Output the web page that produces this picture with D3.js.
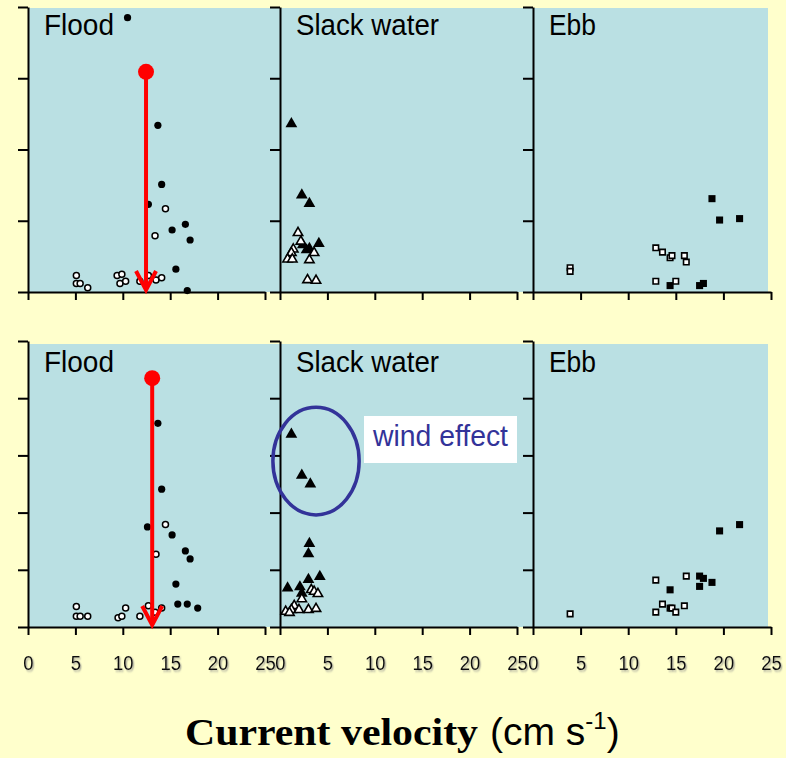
<!DOCTYPE html>
<html>
<head>
<meta charset="utf-8">
<script src="https://cdn.jsdelivr.net/npm/d3@7"></script>
<style>
  html, body { margin: 0; padding: 0; background: #FFFFCC; }
  svg { display: block; }
</style>
</head>
<body>
<script>
// Panel titles and x ticks
const panelNames = ["Flood", "Slack water", "Ebb"];
const xTicks = [0, 5, 10, 15, 20, 25];

// Top row ([velocity, y])
const floodTopFilled = [[10.5,3.85],[13.7,2.34],[14.1,1.51],[12.7,1.23],[15.2,0.87],[16.6,0.95],[17.1,0.73],[15.6,0.32],[16.8,0.02]];
const floodTopOpen = [[5.1,0.23],[5.1,0.12],[5.5,0.12],[6.3,0.06],[9.4,0.23],[9.9,0.25],[9.7,0.12],[10.3,0.15],[11.8,0.15],[12.7,0.23],[13.5,0.17],[14.1,0.20],[14.5,1.17],[13.4,0.79]];
const slackTopFilled = [[1.2,2.36],[2.3,1.36],[3.1,1.24],[2.4,0.66],[2.8,0.59],[3.1,0.61],[4.1,0.68]];
const slackTopOpen = [[1.9,0.83],[2.2,0.71],[1.4,0.60],[1.2,0.55],[0.8,0.46],[1.3,0.46],[3.1,0.45],[3.6,0.55],[2.9,0.17],[3.8,0.16]];
const ebbTopFilled = [[18.8,1.31],[19.6,1.01],[21.7,1.03],[14.4,0.09],[17.5,0.09],[17.9,0.12]];
const ebbTopOpen = [[3.9,0.34],[3.9,0.29],[12.9,0.62],[13.6,0.56],[14.4,0.48],[14.6,0.51],[15.9,0.51],[16.1,0.42],[12.9,0.15],[15.0,0.15]];

// Bottom row
const floodBotFilled = [[13.7,3.56],[14.1,2.41],[12.6,1.75],[15.2,1.61],[16.6,1.33],[17.1,1.19],[15.6,0.75],[15.8,0.40],[16.8,0.40],[17.9,0.33]];
const floodBotOpen = [[14.5,1.79],[13.5,1.27],[5.1,0.36],[5.1,0.19],[5.5,0.19],[6.3,0.19],[9.5,0.16],[9.9,0.19],[10.3,0.33],[11.8,0.19],[12.7,0.37],[13.4,0.26],[14.1,0.33]];
const slackBotFilled = [[1.2,3.37],[2.3,2.65],[3.2,2.50],[3.1,1.46],[3.0,1.28],[0.8,0.68],[2.1,0.70],[3.0,0.83],[4.2,0.88],[2.3,0.59]];
const slackBotOpen = [[3.3,0.65],[3.6,0.62],[4.0,0.58],[2.3,0.49],[1.5,0.37],[1.2,0.30],[0.6,0.27],[1.0,0.25],[2.0,0.30],[3.0,0.30],[3.8,0.32]];
const ebbBotFilled = [[19.6,1.68],[21.7,1.79],[17.5,0.89],[17.9,0.85],[18.8,0.78],[17.5,0.71],[14.4,0.65],[14.4,0.33]];
const ebbBotOpen = [[3.9,0.23],[12.9,0.82],[16.1,0.89],[13.6,0.40],[14.6,0.33],[15.0,0.26],[15.9,0.37],[12.9,0.26]];

// Red arrows in the flood panels: [x, start y, end y]
const arrowTop = [12.45, 3.09, 0];
const arrowBot = [13.1, 4.35, 0];

// "wind effect" ellipse in the bottom slack panel: [cx, cy, rx, ry] in data units
const windEllipse = [3.8, 2.9, 4.55, 0.94];

const width = 786, height = 758;
const colRange = [[28, 265], [280, 517], [533, 771]];
const labelWidths = [70, 143, 47];
const shapes = ["circle", "triangle", "square"];

const rows = [
  { top: 7, bottom: 292, bgTop: 8, ymax: 4, labelY: 35, tickLabels: false,
    sets: [[floodTopFilled, floodTopOpen], [slackTopFilled, slackTopOpen], [ebbTopFilled, ebbTopOpen]],
    arrow: arrowTop },
  { top: 341, bottom: 627, bgTop: 344, ymax: 5, labelY: 372, tickLabels: true,
    sets: [[floodBotFilled, floodBotOpen], [slackBotFilled, slackBotOpen], [ebbBotFilled, ebbBotOpen]],
    arrow: arrowBot }
];

const svg = d3.select("body").append("svg")
  .attr("width", width)
  .attr("height", height);

// soft shadow for tick labels
const filt = svg.append("defs").append("filter")
  .attr("id", "shadow").attr("x", "-20%").attr("y", "-20%")
  .attr("width", "160%").attr("height", "160%");
filt.append("feDropShadow")
  .attr("dx", 1.5).attr("dy", 1.5).attr("stdDeviation", 0.8)
  .attr("flood-color", "#888").attr("flood-opacity", 0.7);

svg.append("rect").attr("width", width).attr("height", height).attr("fill", "#FFFFCC");

function drawMarks(g, pts, shape, filled, x, y) {
  const sel = g.selectAll(null).data(pts).enter();
  if (shape === "circle") {
    sel.append("circle")
      .attr("cx", d => x(d[0]))
      .attr("cy", d => y(d[1]))
      .attr("r", filled ? 3.6 : 3)
      .attr("fill", filled ? "#000" : "#fff")
      .attr("stroke", "#000")
      .attr("stroke-width", filled ? 0 : 1.5);
  } else {
    const sym = d3.symbol()
      .type(shape === "triangle" ? d3.symbolTriangle : d3.symbolSquare)
      .size(shape === "triangle" ? (filled ? 60 : 38) : (filled ? 50 : 30));
    sel.append("path")
      .attr("d", sym)
      .attr("transform", d => `translate(${x(d[0])},${y(d[1])})`)
      .attr("fill", filled ? "#000" : "#fff")
      .attr("stroke", "#000")
      .attr("stroke-width", filled ? 0 : 1.6);
  }
}

rows.forEach(row => {
  // panel background
  svg.append("rect")
    .attr("x", 29).attr("y", row.bgTop)
    .attr("width", 768 - 29).attr("height", row.bottom - row.bgTop)
    .attr("fill", "#BAE0E3");

  const y = d3.scaleLinear().domain([0, row.ymax]).range([row.bottom, row.top]);

  colRange.forEach((range, c) => {
    const x = d3.scaleLinear().domain([0, 25]).range(range);
    const g = svg.append("g");

    drawMarks(g, row.sets[c][0], shapes[c], true, x, y);
    drawMarks(g, row.sets[c][1], shapes[c], false, x, y);

    // axes
    const yAxis = g.append("g")
      .attr("transform", `translate(${range[0]},0)`)
      .call(d3.axisLeft(y).tickValues(d3.range(0, row.ymax + 1)).tickSize(10).tickSizeOuter(0).tickFormat(""));
    const xAxis = g.append("g")
      .attr("transform", `translate(0,${row.bottom})`)
      .call(d3.axisBottom(x).tickValues(xTicks).tickSize(8).tickSizeOuter(0).tickPadding(20)
        .tickFormat(row.tickLabels ? d3.format("d") : ""));
    [yAxis, xAxis].forEach(a => {
      a.select(".domain").attr("stroke", "#000").attr("stroke-width", 2);
      a.selectAll(".tick line").attr("stroke", "#000").attr("stroke-width", 2);
    });
    xAxis.selectAll(".tick text")
      .attr("fill", "#111")
      .attr("filter", "url(#shadow)")
      .attr("transform", "scale(0.88,1)")
      .style("font-family", "'Liberation Sans',Arial,sans-serif")
      .style("font-size", "21px");

    // red arrow in the flood panel
    if (c === 0) {
      const [ax, y0, y1] = row.arrow;
      const px = x(ax), top = y(y0), bot = y(y1);
      g.append("line")
        .attr("x1", px).attr("x2", px)
        .attr("y1", top).attr("y2", bot - 2)
        .attr("stroke", "#FF0000").attr("stroke-width", 4);
      g.append("path")
        .attr("d", `M${px - 10},${bot - 21}L${px},${bot - 2}L${px + 10},${bot - 21}`)
        .attr("fill", "none").attr("stroke", "#FF0000").attr("stroke-width", 4);
      g.append("circle")
        .attr("cx", px).attr("cy", top).attr("r", 8)
        .attr("fill", "#FF0000");
    }

    // panel title
    g.append("text")
      .attr("x", range[0] + 16)
      .attr("y", row.labelY)
      .attr("textLength", labelWidths[c])
      .attr("lengthAdjust", "spacingAndGlyphs")
      .style("font-family", "'Liberation Sans',Arial,sans-serif")
      .style("font-size", "30px")
      .attr("fill", "#000")
      .text(panelNames[c]);

    // wind effect annotation in bottom slack panel
    if (row.tickLabels && c === 1) {
      const [cx, cy, rx, ry] = windEllipse;
      g.append("ellipse")
        .attr("cx", x(cx)).attr("cy", y(cy))
        .attr("rx", x(rx) - x(0)).attr("ry", y(0) - y(ry))
        .attr("fill", "none")
        .attr("stroke", "#333399")
        .attr("stroke-width", 3.5);
      g.append("rect")
        .attr("x", 364).attr("y", 416)
        .attr("width", 153).attr("height", 47)
        .attr("fill", "#fff");
      g.append("text")
        .attr("x", 373).attr("y", 446)
        .attr("textLength", 135)
        .attr("lengthAdjust", "spacingAndGlyphs")
        .style("font-family", "'Liberation Sans',Arial,sans-serif")
        .style("font-size", "30px")
        .attr("fill", "#333399")
        .text("wind effect");
    }
  });
});

// x axis title
svg.append("text")
  .attr("x", 185).attr("y", 745)
  .attr("textLength", 293)
  .attr("lengthAdjust", "spacingAndGlyphs")
  .style("font-family", "'Liberation Serif','Times New Roman',serif")
  .style("font-weight", "bold")
  .style("font-size", "38px")
  .attr("fill", "#000")
  .text("Current velocity");

const unit = svg.append("text")
  .attr("x", 490).attr("y", 745)
  .style("font-family", "'Liberation Sans',Arial,sans-serif")
  .style("font-size", "39px")
  .attr("fill", "#000");
unit.append("tspan").text("(cm s");
unit.append("tspan").attr("dy", -16).style("font-size", "24px").text("-1");
unit.append("tspan").attr("dy", 16).text(")");
</script>
</body>
</html>
